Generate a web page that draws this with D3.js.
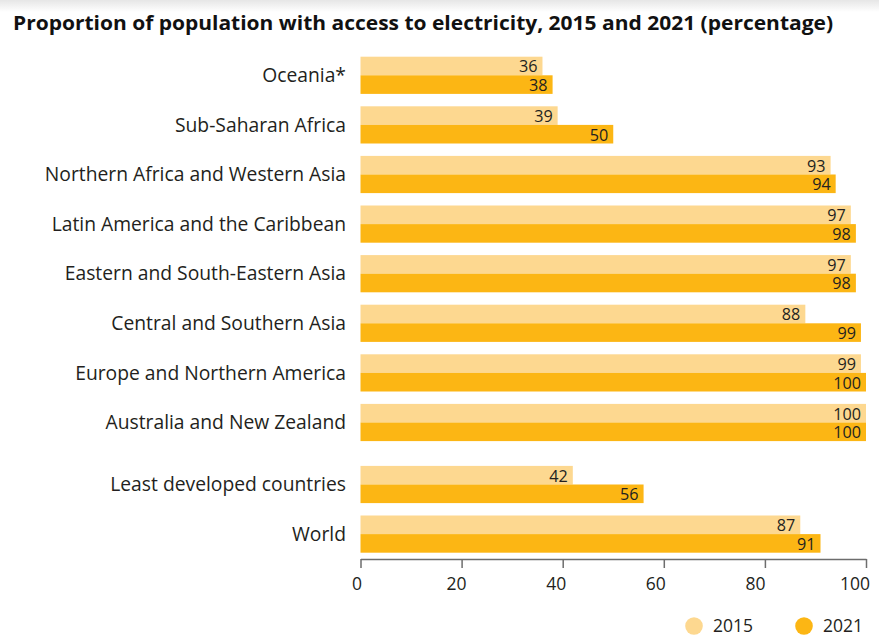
<!DOCTYPE html>
<html>
<head>
<meta charset="utf-8">
<script src="https://cdn.jsdelivr.net/npm/d3@7/dist/d3.min.js"></script>
<style>
  html, body { margin: 0; padding: 0; background: #ffffff; }
  svg { display: block; }
</style>
</head>
<body>
<svg id="chart" width="879" height="636"></svg>
<script>
// Access to electricity by region, 2015 vs 2021 (% of population)
const categories = [
  "Oceania*",
  "Sub-Saharan Africa",
  "Northern Africa and Western Asia",
  "Latin America and the Caribbean",
  "Eastern and South-Eastern Asia",
  "Central and Southern Asia",
  "Europe and Northern America",
  "Australia and New Zealand",
  "Least developed countries",
  "World"
];
const categoryGroup = ["region", "region", "region", "region", "region", "region", "region", "region", "aggregate", "aggregate"];
const values2015 = [36, 39, 93, 97, 97, 88, 99, 100, 42, 87];
const values2021 = [38, 50, 94, 98, 98, 99, 100, 100, 56, 91];
const seriesNames = ["2015", "2021"];
const seriesColors = ["#FDD890", "#FCB614"];
const tickValues = [0, 20, 40, 60, 80, 100];
const titleText = "Proportion of population with access to electricity, 2015 and 2021 (percentage)";

const svg = d3.select("#chart");
const W = 879, H = 636;
const labelFont = "'Open Sans', 'Noto Sans', sans-serif";
const textColor = "#231f20";

// faint shade along the top edge
const defs = svg.append("defs");
const grad = defs.append("linearGradient").attr("id", "topShade")
  .attr("x1", 0).attr("y1", 0).attr("x2", 0).attr("y2", 1);
grad.append("stop").attr("offset", "0%").attr("stop-color", "#e6e6e6");
grad.append("stop").attr("offset", "100%").attr("stop-color", "#ffffff");
svg.append("rect").attr("x", 0).attr("y", 0).attr("width", W).attr("height", 12)
  .attr("fill", "url(#topShade)");

// title
svg.append("text")
  .attr("x", 13).attr("y", 29.5)
  .attr("font-family", "'Open Sans', sans-serif")
  .attr("font-weight", 700)
  .attr("font-size", 20)
  .attr("textLength", 820)
  .attr("lengthAdjust", "spacingAndGlyphs")
  .attr("fill", "#111")
  .text(titleText);

// scales
const x = d3.scaleLinear().domain([0, 100]).range([360.5, 866]);

// each row sits on a slot; aggregates are pushed down by a quarter row
const slots = [];
let slot = 0;
categories.forEach((c, i) => {
  if (i > 0 && categoryGroup[i] !== categoryGroup[i - 1]) slot += 0.25;
  slots.push(slot);
  slot += 1;
});
const yRow = d3.scaleLinear().domain([0, 1]).range([56.7, 56.7 + 49.6]);
const barH = 18.6;

const rows = categories.map((c, i) => ({
  name: c,
  top: yRow(slots[i]),
  vals: [values2015[i], values2021[i]]
}));

const g = svg.append("g");

const rowG = g.selectAll("g.row").data(rows).join("g").attr("class", "row")
  .attr("transform", d => `translate(0,${d.top})`);

// category labels
rowG.append("text")
  .attr("x", 346)
  .attr("y", barH)
  .attr("dy", "0.35em")
  .attr("text-anchor", "end")
  .attr("font-family", labelFont)
  .attr("font-size", 19.3)
  .attr("fill", textColor)
  .text(d => d.name);

// bars
rowG.selectAll("rect.bar")
  .data(d => d.vals.map((v, k) => ({ v, k })))
  .join("rect")
  .attr("class", "bar")
  .attr("x", x(0))
  .attr("y", d => d.k * barH)
  .attr("width", d => x(d.v) - x(0))
  .attr("height", barH)
  .attr("fill", d => seriesColors[d.k]);

// value labels inside bar ends
rowG.selectAll("text.val")
  .data(d => d.vals.map((v, k) => ({ v, k })))
  .join("text")
  .attr("class", "val")
  .attr("x", d => x(d.v) - 5)
  .attr("y", d => d.k * barH + barH / 2 + 1)
  .attr("dy", "0.33em")
  .attr("text-anchor", "end")
  .attr("font-family", labelFont)
  .attr("font-size", 16.2)
  .attr("fill", textColor)
  .text(d => d.v);

// x axis
const axisY = 559;
const axis = d3.axisBottom(x).tickValues(tickValues).tickSize(9).tickPadding(10).tickSizeOuter(0);
const axG = svg.append("g").attr("transform", `translate(0,${axisY})`).call(axis);
axG.select(".domain").attr("stroke", "#6d6d6d").attr("stroke-width", 1.5);
axG.selectAll(".tick line").attr("stroke", "#6d6d6d").attr("stroke-width", 1.5);
axG.selectAll(".tick text")
  .attr("font-family", labelFont)
  .attr("font-size", 17.5)
  .attr("fill", textColor)
  .attr("dx", d => -(4 + d * 0.075));

// legend
const legendX = [694, 804];
const legend = svg.append("g").selectAll("g").data(seriesNames).join("g")
  .attr("transform", (d, i) => `translate(${legendX[i]},626)`);
legend.append("circle").attr("r", 8.8).attr("fill", (d, i) => seriesColors[i]);
legend.append("text")
  .attr("x", 19)
  .attr("dy", "0.35em")
  .attr("font-family", labelFont)
  .attr("font-size", 17.5)
  .attr("fill", textColor)
  .text(d => d);
</script>
</body>
</html>
